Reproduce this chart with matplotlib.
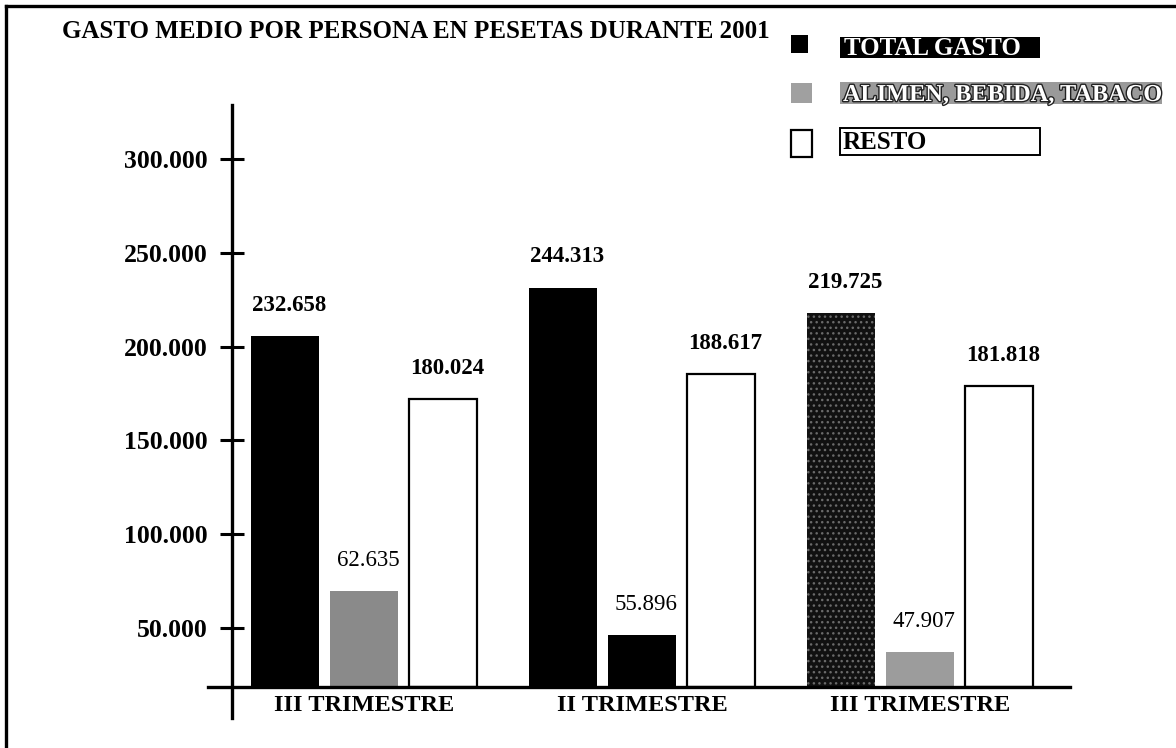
import matplotlib.pyplot as plt
import numpy as np
from matplotlib.patches import Rectangle
from matplotlib.lines import Line2D
import matplotlib.patheffects as pe

plt.rcParams['font.family'] = ['Liberation Serif', 'DejaVu Serif']

title = "GASTO MEDIO POR PERSONA EN PESETAS DURANTE 2001"
trimestres = ["III TRIMESTRE", "II TRIMESTRE", "III TRIMESTRE"]
series = ["TOTAL GASTO", "ALIMEN, BEBIDA, TABACO", "RESTO"]

# values printed above the bars
total_labels = ["232.658", "244.313", "219.725"]
alimen_labels = ["62.635", "55.896", "47.907"]
resto_labels = ["180.024", "188.617", "181.818"]

# bar tops as drawn in the original (thousands)
total_tops = [205.7, 231.5, 217.9]
alimen_tops = [69.7, 46.2, 37.1]
resto_tops = [172.1, 185.4, 179.0]
base = 18.5   # the bars stand on this line, not on zero

yticks = [50, 100, 150, 200, 250, 300]
ytick_labels = ["50.000", "100.000", "150.000", "200.000", "250.000", "300.000"]

W, H = 1176, 748
fig = plt.figure(figsize=(W / 100, H / 100), dpi=100)
ax = fig.add_axes([0, 0, 1, 1])
ax.set_xlim(-1.309, 2.921)
ax.set_ylim(-14.2, 384.9)
ax.patch.set_alpha(0)

x = np.arange(len(trimestres))
off = 0.285
wd = 0.245

b_tot = ax.bar(x - off, np.array(total_tops) - base, wd, bottom=base,
               color=["black", "black", "#111111"], linewidth=0)
b_ali = ax.bar(x, np.array(alimen_tops) - base, wd, bottom=base,
               color=["#8a8a8a", "black", "#9c9c9c"], linewidth=0)
b_res = ax.bar(x + off, np.array(resto_tops) - base, wd, bottom=base,
               color="white", edgecolor="black", linewidth=1.6)
# speckled last black bar
b_tot[2].set_hatch("...")
b_tot[2].set_edgecolor("#6a6a6a")

for bars, labels, wt in [(b_tot, total_labels, "bold"),
                         (b_ali, alimen_labels, "normal"),
                         (b_res, resto_labels, "bold")]:
    for r, lbl in zip(bars, labels):
        ax.annotate(lbl, (r.get_x() + r.get_width() / 2, r.get_y() + r.get_height()),
                    xytext=(3, 22), textcoords="offset points",
                    ha="center", va="center", fontsize=16.5, fontweight=wt)

for s in ["top", "right"]:
    ax.spines[s].set_visible(False)
ax.spines["left"].set_position(("data", -0.475))
ax.spines["left"].set_bounds(1.9, 328.9)
ax.spines["left"].set_linewidth(2.4)
ax.spines["bottom"].set_position(("data", base))
ax.spines["bottom"].set_bounds(-0.561, 2.540)
ax.spines["bottom"].set_linewidth(2.4)

ax.set_yticks(yticks, ytick_labels)
ax.tick_params(axis="y", direction="inout", length=17, width=2.2, pad=9, labelsize=18.5)
for t in ax.get_yticklabels():
    t.set_fontweight("bold")
ax.set_xticks(x, trimestres)
ax.tick_params(axis="x", length=0, pad=6, labelsize=17.5)
for t in ax.get_xticklabels():
    t.set_fontweight("bold")


def fx(px):
    return px / W


def fy(py):
    return 1 - py / H


def box(x0, y0, x1, y1, **kw):
    fig.add_artist(Rectangle((fx(x0), fy(y1)), fx(x1) - fx(x0), fy(y0) - fy(y1),
                             transform=fig.transFigure, **kw))


# frame of the scanned page
fig.add_artist(Line2D([fx(6), fx(6)], [fy(6), 0], transform=fig.transFigure, color="black", lw=2.4))
fig.add_artist(Line2D([fx(6), 1], [fy(6), fy(6)], transform=fig.transFigure, color="black", lw=2.4))

fig.text(fx(62), fy(32), title, ha="left", va="center", fontsize=18, fontweight="bold")

# legend
box(791, 35, 808, 53, facecolor="black", edgecolor="none")
box(840, 37, 1040, 58, facecolor="black", edgecolor="none")
fig.text(fx(844), fy(55), series[0], ha="left", va="baseline", fontsize=18,
         fontweight="bold", color="white")

box(791, 83, 812, 103, facecolor="#a0a0a0", edgecolor="none")
box(840, 82, 1162, 104, facecolor="#9a9a9a", edgecolor="none")
fig.text(fx(843), fy(101), series[1], ha="left", va="baseline", fontsize=17.5,
         fontweight="bold", color="white",
         path_effects=[pe.withStroke(linewidth=2, foreground="#222222")])

box(791, 130, 812, 157, facecolor="white", edgecolor="black", lw=1.6)
box(840, 128, 1040, 155, facecolor="white", edgecolor="black", lw=1.4)
fig.text(fx(843), fy(149), series[2], ha="left", va="baseline", fontsize=18,
         fontweight="bold", color="black")

fig.savefig("out.png", dpi=100)
